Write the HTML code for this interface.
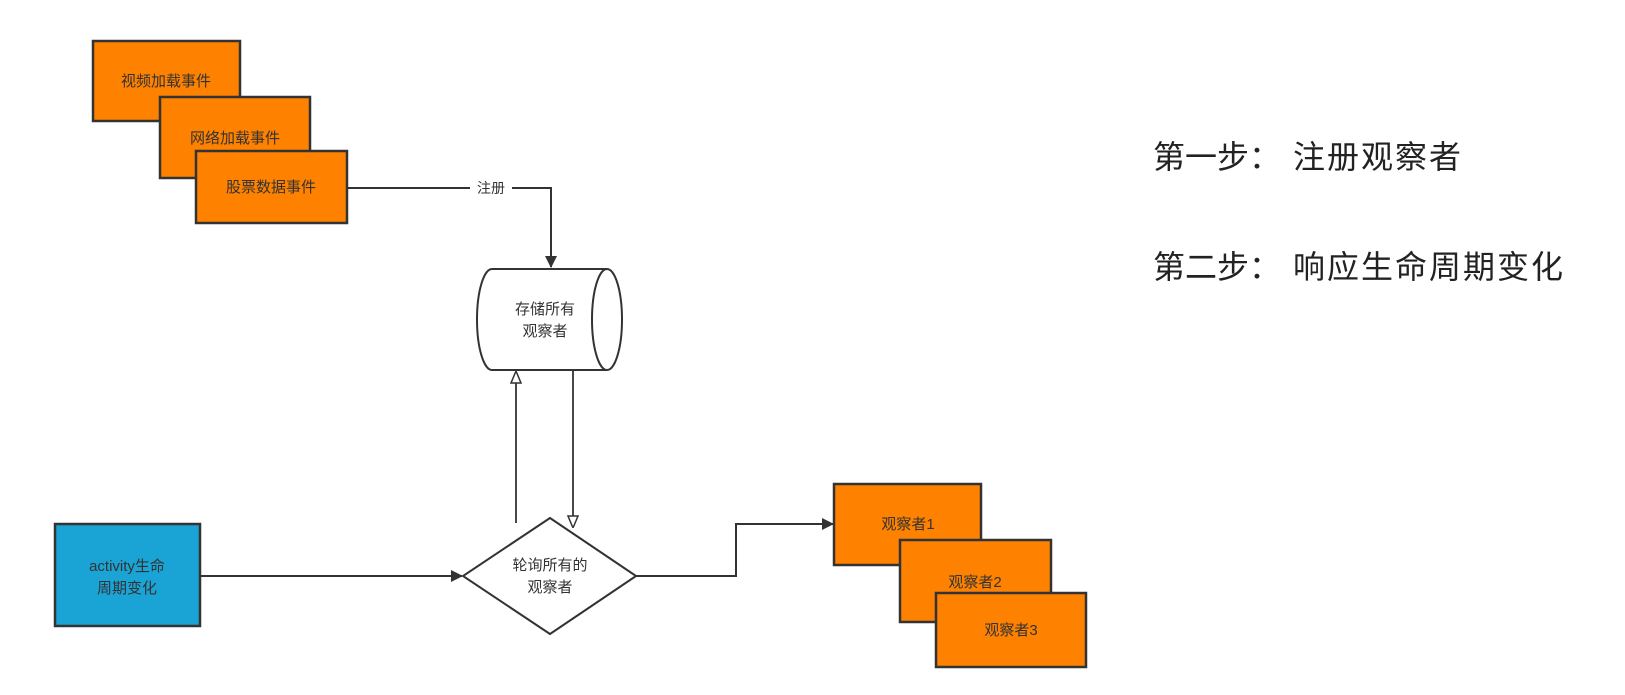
<!DOCTYPE html>
<html><head><meta charset="utf-8"><style>
html,body{margin:0;padding:0;background:#fff;}
body{width:1625px;height:695px;overflow:hidden;position:relative;}
svg{position:absolute;left:0;top:0;}
.t{font-family:"Liberation Sans","Noto Sans CJK SC",sans-serif;fill:#333;font-size:15px;text-anchor:middle;}
.big{position:absolute;font-family:"Liberation Sans","Noto Sans CJK SC",sans-serif;font-size:32px;color:#222;white-space:nowrap;line-height:1;}
</style></head><body>
<svg width="1625" height="695" viewBox="0 0 1625 695">
<defs>
<marker id="af" markerWidth="12" markerHeight="12" refX="11" refY="6" orient="auto" markerUnits="userSpaceOnUse"><path d="M0,0 L12,6 L0,12 Z" fill="#333"/></marker>
<marker id="ah" markerWidth="12" markerHeight="14" refX="13" refY="6" orient="auto" markerUnits="userSpaceOnUse"><path d="M1,1 L13,6 L1,11 Z" fill="#fff" stroke="#333" stroke-width="1.5"/></marker>
</defs>
<g stroke="#333" stroke-width="2.5">
<rect x="93" y="41" width="147" height="80" fill="#fe8100"/>
<rect x="160" y="97" width="150" height="81" fill="#fe8100"/>
<rect x="196" y="151" width="151" height="72" fill="#fe8100"/>
</g>
<text class="t" x="166" y="86">视频加载事件</text>
<text class="t" x="235" y="143">网络加载事件</text>
<text class="t" x="271" y="192">股票数据事件</text>
<path d="M347,188 H551 V267" fill="none" stroke="#333" stroke-width="2" marker-end="url(#af)"/>
<rect x="470" y="178" width="42" height="20" fill="#fff"/>
<text class="t" x="491" y="193" style="font-size:14px">注册</text>
<!-- cylinder -->
<path d="M492,269 H607 A15,50.5 0 0 1 607,370 H492 A15,50.5 0 0 1 492,269 Z" fill="#fff" stroke="#333" stroke-width="2"/>
<path d="M607,269 A15,50.5 0 0 0 607,370" fill="none" stroke="#333" stroke-width="2"/>
<text class="t" x="545" y="314">存储所有</text>
<text class="t" x="545" y="336">观察者</text>
<path d="M516,523 V371" fill="none" stroke="#333" stroke-width="1.8" marker-end="url(#ah)"/>
<path d="M573,370 V528" fill="none" stroke="#333" stroke-width="1.8" marker-end="url(#ah)"/>
<polygon points="550,518 636,576 550,634 463,576" fill="#fff" stroke="#333" stroke-width="2"/>
<text class="t" x="550" y="570">轮询所有的</text>
<text class="t" x="550" y="592">观察者</text>
<rect x="55" y="524" width="145" height="102" fill="#1aa3d5" stroke="#333" stroke-width="2.5"/>
<text class="t" x="127" y="571">activity生命</text>
<text class="t" x="127" y="593">周期变化</text>
<path d="M200,576 H462" fill="none" stroke="#333" stroke-width="2" marker-end="url(#af)"/>
<path d="M636,576 H736 V524 H833" fill="none" stroke="#333" stroke-width="2" marker-end="url(#af)"/>
<g stroke="#333" stroke-width="2.5">
<rect x="834" y="484" width="147" height="81" fill="#fe8100"/>
<rect x="900" y="540" width="151" height="82" fill="#fe8100"/>
<rect x="936" y="593" width="150" height="74" fill="#fe8100"/>
</g>
<text class="t" x="908" y="529">观察者1</text>
<text class="t" x="975" y="587">观察者2</text>
<text class="t" x="1011" y="635">观察者3</text>
</svg>
<div class="big" style="left:1153px;top:141px;">第一步：</div>
<div class="big" style="left:1293px;top:141px;letter-spacing:2px;">注册观察者</div>
<div class="big" style="left:1153px;top:251px;">第二步：</div>
<div class="big" style="left:1293px;top:251px;letter-spacing:2px;">响应生命周期变化</div>
</body></html>
